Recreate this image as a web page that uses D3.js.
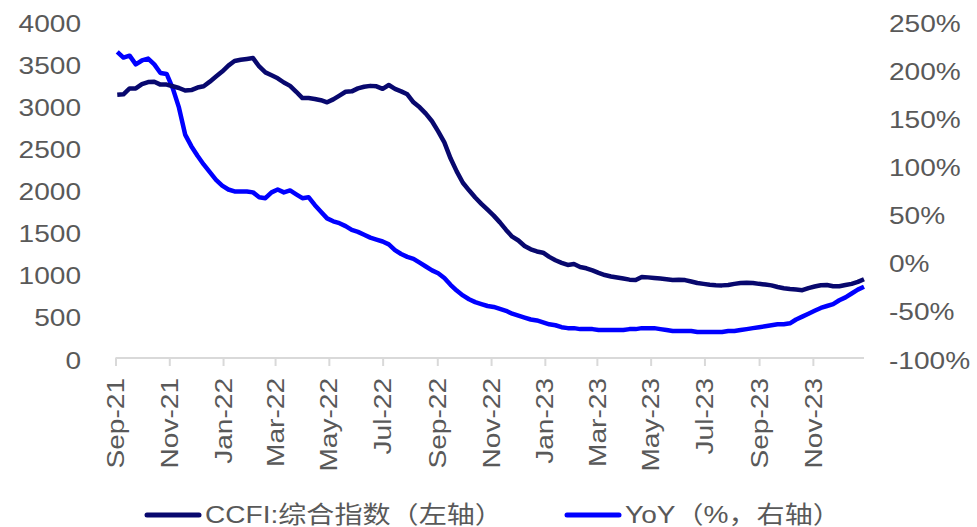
<!DOCTYPE html>
<html>
<head>
<meta charset="utf-8">
<script src="https://cdn.jsdelivr.net/npm/d3@7"></script>
<style>
  body { margin: 0; background: #fff; }
  text { font-family: "Liberation Sans", Arial, "Noto Sans CJK SC", sans-serif; fill: #595959; font-size: 24px; }
</style>
</head>
<body>
<svg id="chart" width="977" height="527"></svg>
<script type="text/javascript">

// weekly Fridays, Sep 3 2021 .. Dec 29 2023
var weeks = d3.timeFriday.range(new Date(2021, 8, 3), new Date(2023, 11, 30));

// CCFI composite index (left axis)
var ccfi = [
  3124, 3130, 3200, 3200, 3250, 3275, 3280, 3245, 3245, 3225,
  3205, 3175, 3180, 3210, 3225, 3280, 3340, 3400, 3470, 3525,
  3540, 3550, 3560, 3460, 3390, 3355, 3320, 3270, 3230, 3160,
  3085, 3085, 3075, 3060, 3035, 3070, 3115, 3160, 3165, 3200,
  3220, 3230, 3225, 3195, 3240, 3195, 3165, 3130, 3035, 2975,
  2900, 2810, 2690, 2560, 2370, 2215, 2080, 1990, 1905, 1830,
  1760, 1690, 1610, 1520, 1440, 1395, 1330, 1290, 1265, 1250,
  1200, 1160, 1130, 1105, 1115, 1080, 1065, 1040, 1010, 985,
  968, 955, 943, 930, 925, 962, 957, 950, 943, 935,
  925, 928, 925, 908, 890, 880, 870, 864, 862, 866,
  880, 891, 893, 891, 880, 872, 862, 843, 828, 818,
  812, 805, 830, 848, 864, 866, 852, 852, 866, 880,
  903, 935
];

// YoY change, % (right axis)
var yoy = [
  218, 212, 214, 205, 209, 211, 205, 196, 195, 180,
  160, 132, 120, 110, 101, 93, 85, 79, 75, 73,
  73, 73, 72, 67, 66, 72, 75, 72, 74, 70,
  66, 67, 59, 52, 45, 42, 40, 37, 33, 31,
  28, 25, 23, 21, 18, 12, 8, 5, 3, -1,
  -5, -9, -12, -17, -24, -30, -35, -39, -42, -44,
  -46, -47, -49, -51, -54, -56, -58, -60, -61, -63,
  -65, -66, -68, -69, -69, -70, -70, -70, -71, -71,
  -71, -71, -71, -70, -70, -69, -69, -69, -70, -71,
  -72, -72, -72, -72, -73, -73, -73, -73, -73, -72,
  -72, -71, -70, -69, -68, -67, -66, -65, -65, -64,
  -60, -57, -54, -51, -48, -46, -44, -40, -37, -33,
  -29, -26
];

var leftTicks = [0, 500, 1000, 1500, 2000, 2500, 3000, 3500, 4000];
var rightTicks = [-100, -50, 0, 50, 100, 150, 200, 250];
var seriesNames = ["CCFI:综合指数（左轴）", "YoY（%，右轴）"];
var seriesColors = ["#08086e", "#0000ff"];

var stretch = "scale(1.17,1)";
var svg = d3.select("#chart");

var x = d3.scaleTime()
  .domain([new Date(2021, 8, 1), new Date(2023, 11, 29)])
  .range([115.5, 864]);
var yL = d3.scaleLinear().domain([0, 4000]).range([358, 21]);
var yR = d3.scaleLinear().domain([-100, 250]).range([358, 21]);

// x axis
var xTicks = d3.timeMonth.every(2).range(new Date(2021, 8, 1), new Date(2023, 11, 2));
var xAxis = svg.append("g")
  .attr("transform", "translate(0,358)")
  .call(d3.axisBottom(x).tickValues(xTicks).tickSize(8).tickSizeOuter(0).tickFormat(""));
xAxis.select(".domain").attr("stroke", "#d9d9d9").attr("stroke-width", 2)
  .attr("d", "M115.5,0H864");
xAxis.selectAll(".tick line").attr("stroke", "#d9d9d9").attr("stroke-width", 2);

svg.append("g").selectAll("text")
  .data(xTicks)
  .join("text")
  .attr("transform", function(d) { return "translate(" + x(d) + ",378) rotate(-90) " + stretch; })
  .attr("text-anchor", "end")
  .attr("dy", "0.36em")
  .text(d3.timeFormat("%b-%y"));

// left axis
var gl = svg.append("g").attr("transform", "translate(81,0)")
  .call(d3.axisLeft(yL).tickValues(leftTicks).tickSize(0).tickPadding(0).tickFormat(d3.format("d")));
gl.select(".domain").remove();
gl.selectAll("text").attr("x", 0).attr("dy", "0.42em").attr("transform", stretch)
  .style("fill", "#595959").style("font-size", "24px");

// right axis
var gr = svg.append("g").attr("transform", "translate(889,0)")
  .call(d3.axisRight(yR).tickValues(rightTicks).tickSize(0).tickPadding(0)
    .tickFormat(function(d) { return d + "%"; }));
gr.select(".domain").remove();
gr.selectAll("text").attr("x", 0).attr("dy", "0.42em").attr("transform", stretch)
  .style("fill", "#595959").style("font-size", "24px");

// lines
var lineL = d3.line().x(function(d, i) { return x(weeks[i]); }).y(function(d) { return yL(d); });
var lineR = d3.line().x(function(d, i) { return x(weeks[i]); }).y(function(d) { return yR(d); });

svg.append("path").datum(yoy.slice(0, weeks.length))
  .attr("fill", "none").attr("stroke", seriesColors[1]).attr("stroke-width", 4.5)
  .attr("stroke-linejoin", "round").attr("d", lineR);

svg.append("path").datum(ccfi.slice(0, weeks.length))
  .attr("fill", "none").attr("stroke", seriesColors[0]).attr("stroke-width", 4.5)
  .attr("stroke-linejoin", "round").attr("d", lineL);

// legend
var legendX = [145, 565];
var leg = svg.append("g").selectAll("g")
  .data(seriesNames)
  .join("g")
  .attr("transform", function(d, i) { return "translate(" + legendX[i] + ",515)"; });
leg.append("line")
  .attr("x1", 2).attr("x2", 54).attr("y1", 0).attr("y2", 0)
  .attr("stroke", function(d, i) { return seriesColors[i]; })
  .attr("stroke-width", 5).attr("stroke-linecap", "round");
leg.append("text")
  .attr("transform", "translate(60,0) " + stretch)
  .attr("dy", "0.33em")
  .text(function(d) { return d; });

</script>
</body>
</html>
